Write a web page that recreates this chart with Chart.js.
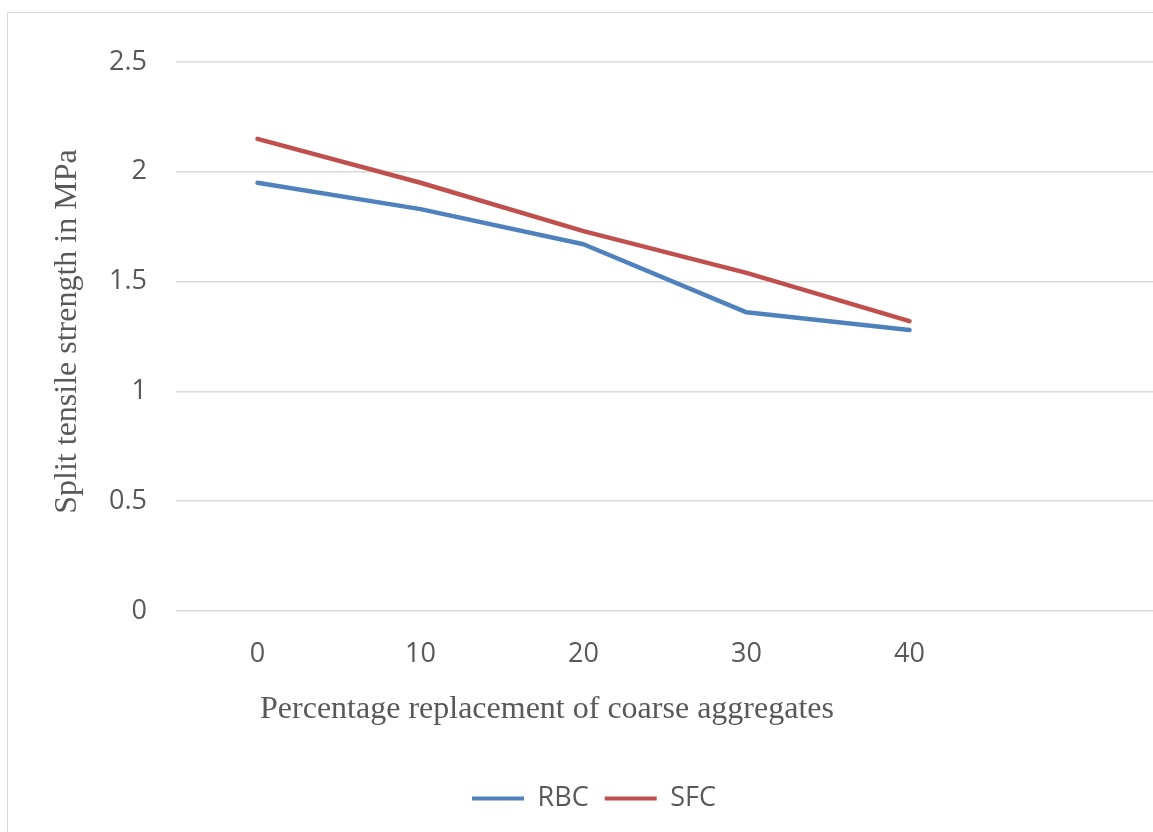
<!DOCTYPE html>
<html>
<head>
<meta charset="utf-8">
<script src="https://cdn.jsdelivr.net/npm/chart.js@4/dist/chart.umd.min.js"></script>
<style>
  html, body { margin: 0; padding: 0; background: #fff; overflow: hidden; width: 1153px; height: 832px; }
  #frame { position: absolute; left: 7px; top: 12px; width: 1166px; height: 838px; border: 1px solid #d9d9d9; background: #fff; }
  #frame canvas { display: block; }
</style>
</head>
<body>
<div id="frame"><canvas id="chart"></canvas></div>
<script>
// Percentage replacement of coarse aggregates (last slot is an empty category)
const categories = ['0', '10', '20', '30', '40', ''];
// Split tensile strength (MPa)
const rbcValues = [1.95, 1.83, 1.67, 1.36, 1.28];
const sfcValues = [2.15, 1.95, 1.73, 1.54, 1.32];
const yTicks = [0, 0.5, 1, 1.5, 2, 2.5];

const xTitleText = 'Percentage replacement of coarse aggregates';
const yTitleText = 'Split tensile strength in MPa';

const textGrey = '#595959';
const gridGrey = '#d9d9d9';
const tickFont = { family: '"Open Sans", sans-serif', size: 27 };
const titleFont = '32px "Liberation Serif", "Times New Roman", serif';

// Axis titles and a small horizontal nudge of the legend row
const axisTitles = {
  id: 'axisTitles',
  afterLayout(chart) {
    const lg = chart.legend;
    if (lg) { lg.left += 13; lg.right += 13; }
  },
  afterDraw(chart) {
    const { ctx, chartArea } = chart;
    ctx.save();
    ctx.fillStyle = textGrey;
    ctx.font = titleFont;
    ctx.textAlign = 'center';
    ctx.textBaseline = 'alphabetic';
    ctx.fillText(xTitleText, chartArea.left + 371, chartArea.bottom + 107);
    ctx.translate(68, (chartArea.top + chartArea.bottom) / 2 - 5);
    ctx.rotate(-Math.PI / 2);
    ctx.fillText(yTitleText, 0, 0);
    ctx.restore();
  }
};

new Chart(document.getElementById('chart'), {
  type: 'line',
  data: {
    labels: categories,
    datasets: [
      { label: 'RBC', data: rbcValues, borderColor: '#4f81bd', backgroundColor: '#4f81bd' },
      { label: 'SFC', data: sfcValues, borderColor: '#c0504d', backgroundColor: '#c0504d' }
    ]
  },
  options: {
    responsive: true,
    maintainAspectRatio: false,
    animation: false,
    layout: { padding: { top: 49, right: 20, bottom: 29, left: 0 } },
    elements: {
      line: { borderWidth: 4.5, tension: 0, borderCapStyle: 'round', borderJoinStyle: 'round', fill: false },
      point: { radius: 0, hoverRadius: 0 }
    },
    scales: {
      x: {
        offset: true,
        grid: { display: false },
        border: { display: false },
        ticks: { color: textGrey, font: tickFont, padding: 19, maxRotation: 0, autoSkip: false },
        afterFit(scale) { scale.height = 158; }
      },
      y: {
        min: 0,
        max: 2.5,
        grid: { color: gridGrey, lineWidth: 1.5, drawTicks: false },
        border: { display: false },
        ticks: { color: textGrey, font: tickFont, padding: 29, callback: v => String(v) },
        afterBuildTicks(scale) { scale.ticks = yTicks.map(v => ({ value: v })); },
        afterFit(scale) { scale.width = 168; }
      }
    },
    plugins: {
      legend: {
        position: 'bottom',
        labels: {
          color: textGrey,
          font: tickFont,
          boxWidth: 52,
          boxHeight: 4,
          padding: 16,
          generateLabels(chart) {
            return chart.data.datasets.map((ds, i) => ({
              text: ds.label,
              fillStyle: ds.borderColor,
              strokeStyle: ds.borderColor,
              lineWidth: 0,
              fontColor: textGrey,
              datasetIndex: i
            }));
          }
        }
      },
      tooltip: { enabled: false }
    }
  },
  plugins: [axisTitles]
});
</script>
</body>
</html>
